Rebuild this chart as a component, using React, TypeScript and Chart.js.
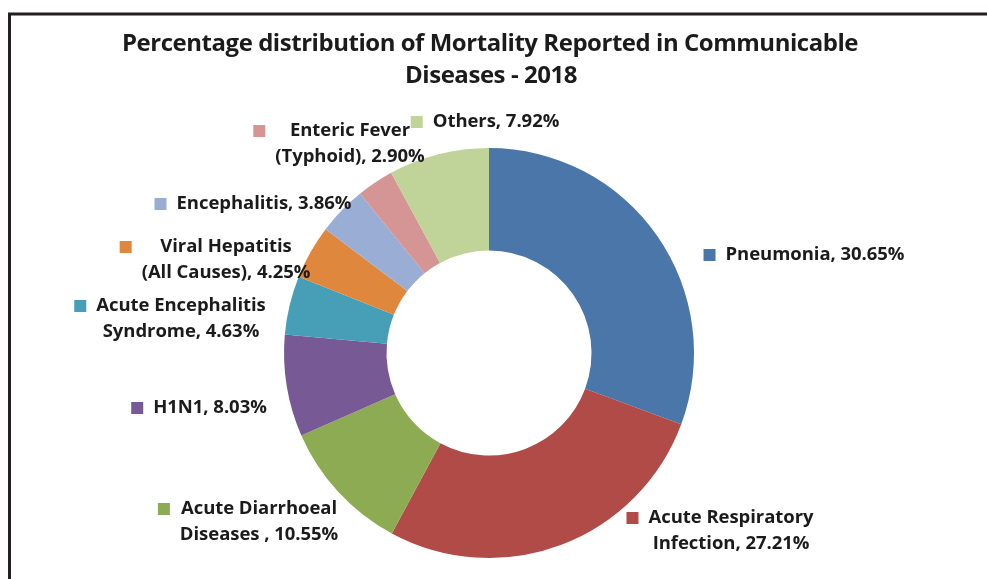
import React, { useEffect, useRef } from "react";
import { Chart, registerables } from "chart.js";

Chart.register(...registerables);

const titleLines = [
  "Percentage distribution of Mortality Reported in Communicable",
  "Diseases - 2018",
];

const categories = [
  "Pneumonia",
  "Acute Respiratory Infection",
  "Acute Diarrhoeal Diseases ",
  "H1N1",
  "Acute Encephalitis Syndrome",
  "Viral Hepatitis (All Causes)",
  "Encephalitis",
  "Enteric Fever (Typhoid)",
  "Others",
];

const values = [30.65, 27.21, 10.55, 8.03, 4.63, 4.25, 3.86, 2.9, 7.92];

const colors = [
  "#4A76AA",
  "#B04B48",
  "#8DAB53",
  "#775A95",
  "#479EB7",
  "#E0873E",
  "#9AADD5",
  "#D69595",
  "#C0D399",
];

// how each label's name is broken into lines (value is appended to the last line)
const labelNameLines = [
  ["Pneumonia"],
  ["Acute Respiratory", "Infection"],
  ["Acute Diarrhoeal", "Diseases "],
  ["H1N1"],
  ["Acute Encephalitis", "Syndrome"],
  ["Viral Hepatitis", "(All Causes)"],
  ["Encephalitis"],
  ["Enteric Fever", "(Typhoid)"],
  ["Others"],
];

// layout: label block centre x and first-line y
const labelLayout = [
  { cx: 815, y: 255 },
  { cx: 731, y: 518 },
  { cx: 259, y: 509 },
  { cx: 210, y: 408 },
  { cx: 181, y: 306 },
  { cx: 226, y: 247 },
  { cx: 264, y: 204 },
  { cx: 350, y: 131 },
  { cx: 496, y: 122 },
];

const FONT = "'Open Sans', Lato, 'Liberation Sans', sans-serif";
const TEXT_COLOR = "#1b1b1b";

const overlayPlugin = {
  id: "overlay",
  afterDraw(chart: any) {
    const ctx = chart.ctx as CanvasRenderingContext2D;
    ctx.save();
    // frame
    ctx.strokeStyle = "#231F20";
    ctx.lineWidth = 3;
    ctx.beginPath();
    ctx.moveTo(9.5, 579);
    ctx.lineTo(9.5, 14);
    ctx.lineTo(987, 14);
    ctx.stroke();

    // title
    ctx.fillStyle = TEXT_COLOR;
    ctx.textAlign = "center";
    ctx.textBaseline = "middle";
    (ctx as any).letterSpacing = "-0.45px";
    ctx.font = `bold 24px ${FONT}`;
    ctx.fillText(titleLines[0], 490, 44, 736);
    ctx.fillText(titleLines[1], 491, 76, 736);

    // labels
    (ctx as any).letterSpacing = "-0.05px";
    ctx.font = `bold 18.5px ${FONT}`;
    const lineH = 26;
    values.forEach((v, i) => {
      const lines = labelNameLines[i].slice();
      lines[lines.length - 1] = `${lines[lines.length - 1]}, ${v.toFixed(2)}%`;
      const { cx, y } = labelLayout[i];
      const widths = lines.map((l) => ctx.measureText(l).width);
      const blockW = Math.max(...widths);
      ctx.fillStyle = colors[i];
      ctx.fillRect(cx - blockW / 2 - 10 - 12, y - 6, 12, 12);
      ctx.fillStyle = TEXT_COLOR;
      ctx.textAlign = "center";
      lines.forEach((l, k) => {
        ctx.fillText(l, cx, y + k * lineH);
      });
    });
    ctx.restore();
  },
};

export default function App() {
  const ref = useRef<HTMLCanvasElement | null>(null);
  useEffect(() => {
    if (!ref.current) return;
    const chart = new Chart(ref.current, {
      type: "doughnut",
      data: {
        labels: categories,
        datasets: [
          {
            data: values,
            backgroundColor: colors,
            borderWidth: 0,
          },
        ],
      },
      options: {
        responsive: false,
        animation: false,
        cutout: "50%",
        layout: { padding: { top: 148, bottom: 21, left: 284, right: 293 } },
        plugins: {
          legend: { display: false },
          title: { display: false },
          tooltip: { enabled: false },
        },
      },
      plugins: [overlayPlugin],
    });
    return () => chart.destroy();
  }, []);
  return (
    <div style={{ position: "fixed", left: 0, top: 0, width: 987, height: 579, background: "#fff" }}>
      <canvas ref={ref} width={987} height={579} style={{ display: "block" }} />
    </div>
  );
}
